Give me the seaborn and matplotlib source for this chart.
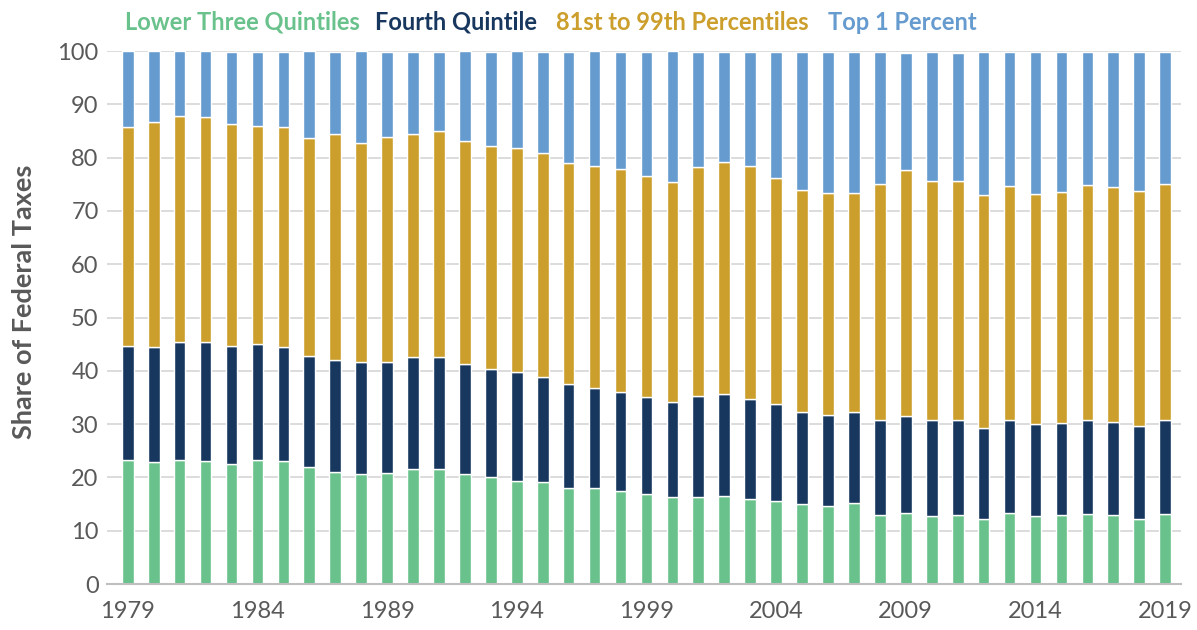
import numpy as np
import pandas as pd
import matplotlib
matplotlib.use("Agg")
import matplotlib.pyplot as plt
import seaborn as sns

# Share of federal taxes by income group, 1979-2019
years = list(range(1979, 2020))
lower_three = [23.2, 22.8, 23.2, 23.0, 22.6, 23.2, 23.0, 22.0, 21.1, 20.7,
               20.9, 21.6, 21.6, 20.7, 20.0, 19.3, 19.1, 18.1, 18.1, 17.5,
               16.9, 16.4, 16.4, 16.6, 16.0, 15.6, 15.0, 14.7, 15.2, 13.0,
               13.3, 12.8, 13.0, 12.2, 13.4, 12.8, 13.0, 13.2, 13.0, 12.2,
               13.2]
fourth_top = [44.7, 44.5, 45.4, 45.4, 44.7, 45.1, 44.5, 42.8, 42.0, 41.6,
              41.7, 42.6, 42.5, 41.2, 40.3, 39.8, 38.8, 37.5, 36.7, 36.1,
              35.0, 34.1, 35.2, 35.7, 34.8, 33.8, 32.3, 31.8, 32.3, 30.8,
              31.6, 30.8, 30.8, 29.3, 30.8, 30.0, 30.2, 30.8, 30.4, 29.7,
              30.8]
p81_99_top = [85.8, 86.7, 87.9, 87.7, 86.4, 86.0, 85.8, 83.7, 84.4, 82.7,
              83.9, 84.4, 85.0, 83.2, 82.2, 81.8, 80.9, 79.0, 78.4, 77.8,
              76.5, 75.5, 78.2, 79.2, 78.4, 76.1, 73.9, 73.3, 73.3, 75.1,
              77.6, 75.6, 75.6, 72.9, 74.6, 73.2, 73.5, 74.8, 74.4, 73.7,
              75.1]
total = [100.0, 100.0, 100.0, 100.0, 99.8, 99.8, 99.8, 100.0, 99.8, 100.0,
         99.8, 99.8, 99.8, 100.0, 99.8, 100.0, 99.8, 99.8, 100.0, 99.8,
         99.8, 100.0, 99.8, 99.8, 99.8, 99.8, 99.8, 99.8, 99.8, 99.8,
         99.6, 99.8, 99.6, 99.8, 99.8, 99.8, 99.8, 99.8, 99.8, 99.8,
         99.8]

fourth = list(np.array(fourth_top) - np.array(lower_three))
p81_99 = list(np.array(p81_99_top) - np.array(fourth_top))
top1 = list(np.array(total) - np.array(p81_99_top))

series = ["Lower Three Quintiles", "Fourth Quintile", "81st to 99th Percentiles", "Top 1 Percent"]
colors = ["#69c18b", "#17375e", "#cc9f2c", "#669bcf"]

df = pd.DataFrame({"year": years, series[0]: lower_three, series[1]: fourth,
                   series[2]: p81_99, series[3]: top1})

sns.set_theme(style="white")
plt.rcParams["font.family"] = ["Lato", "DejaVu Sans"]

fig = plt.figure(figsize=(11.97, 6.30), dpi=100)
ax = fig.add_axes([0.0894, 0.073, 0.897, 0.846])

bottom = np.zeros(len(years))
for name, col in zip(series, colors):
    sns.barplot(data=df, x="year", y=name, color=col, width=0.45,
                bottom=bottom, ax=ax, saturation=1)
    bottom = bottom + df[name].values

ax.set_ylim(0, 100)
ax.set_xlim(-0.8, 40.6)
ax.set_yticks(range(0, 101, 10))
ax.yaxis.grid(True, color="#d9d9d9", linewidth=1.3)
ax.set_axisbelow(True)
ax.set_xticks(range(0, 41, 5))
ax.set_xticklabels([str(y) for y in years[::5]])
ax.tick_params(axis="both", labelsize=17, labelcolor="#595959", length=0)
ax.tick_params(axis="x", pad=12)
ax.tick_params(axis="y", pad=6)
ax.set_xlabel("")
ax.set_ylabel("Share of Federal Taxes", fontsize=19.5, fontweight="bold", color="#595959")
ax.yaxis.set_label_coords(-0.066, 0.53)
for s in ["top", "right", "left"]:
    ax.spines[s].set_visible(False)
ax.spines["bottom"].set_color("#bfbfbf")
ax.spines["bottom"].set_linewidth(1.5)

# legend as coloured text along the top
xs = [125, 375, 556, 828]
for name, col, xp in zip(series, colors, xs):
    fig.text(xp / 1197, 1 - 22 / 630, name, color=col, fontsize=17,
             fontweight="bold", va="center", ha="left")

fig.savefig("out.png", dpi=100)
